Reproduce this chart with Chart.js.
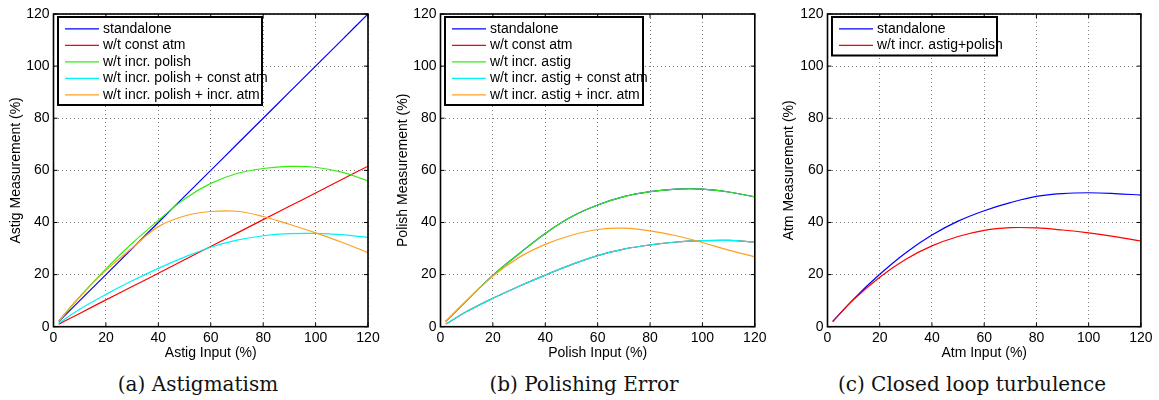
<!DOCTYPE html>
<html><head><meta charset="utf-8">
<script src="https://cdn.jsdelivr.net/npm/chart.js@4.4.1/dist/chart.umd.min.js"></script>
<style>
html,body{margin:0;padding:0;background:#fff;width:1159px;height:400px;overflow:hidden;}
.wrap{position:absolute;top:0;width:385px;height:365px;}
.cap{position:absolute;top:372px;line-height:24px;font-family:"DejaVu Serif",serif;font-size:20px;color:#111;white-space:nowrap;transform:translateX(-50%);}
</style></head><body>
<div class="wrap" style="left:0px"><canvas id="c1" width="385" height="365"></canvas></div>
<div class="wrap" style="left:386.5px"><canvas id="c2" width="385" height="365"></canvas></div>
<div class="wrap" style="left:773.8px"><canvas id="c3" width="385" height="365"></canvas></div>
<div class="cap" style="left:198px">(a) Astigmatism</div>
<div class="cap" style="left:584px">(b) Polishing Error</div>
<div class="cap" style="left:972px">(c) Closed loop turbulence</div>
<script>
// ---- data ----
const xInput = [2, 10, 20, 30, 40, 50, 60, 70, 80, 90, 100, 110, 120];
const axisTicks = [0, 20, 40, 60, 80, 100, 120];

// (a) Astigmatism
const astigStandalone        = [2, 10, 20, 30, 40, 50, 60, 70, 80, 90, 100, 110, 120];
const astigConstAtm          = [1.0, 5.1, 10.3, 15.4, 20.5, 25.7, 30.8, 35.9, 41.1, 46.2, 51.3, 56.5, 61.6];
const astigIncrPolish        = [2.2, 11.5, 22.2, 32.0, 40.8, 49.0, 55.0, 58.8, 60.7, 61.5, 61.2, 59.3, 56.0];
const astigIncrPolishConst   = [1.3, 6.7, 12.4, 17.6, 22.4, 26.7, 30.5, 33.2, 34.9, 35.7, 35.8, 35.3, 34.3];
const astigIncrPolishIncr    = [2.1, 11.4, 21.6, 30.2, 38.4, 42.5, 44.2, 44.3, 42.3, 39.3, 36.0, 32.4, 28.4];

// (b) Polishing error
const polishStandalone       = [2, 10, 19.7, 28.0, 35.8, 42.2, 46.7, 49.9, 51.8, 52.8, 52.8, 51.7, 49.8];
const polishConstAtm         = [1, 5.8, 10.9, 15.5, 19.8, 23.8, 27.3, 29.8, 31.4, 32.5, 33.0, 33.1, 32.5];
const polishIncrAstig        = [2, 10, 19.7, 28.0, 35.8, 42.2, 46.7, 49.9, 51.8, 52.8, 52.8, 51.7, 49.8];
const polishIncrAstigConst   = [1, 5.8, 10.9, 15.5, 19.8, 23.8, 27.3, 29.8, 31.4, 32.5, 33.0, 33.1, 32.5];
const polishIncrAstigIncr    = [2, 10, 19.4, 26.6, 31.6, 35.1, 37.3, 37.8, 36.8, 34.9, 32.3, 29.4, 26.8];

// (c) Closed loop turbulence
const atmStandalone          = [2, 10.6, 20.1, 28.4, 35.2, 40.5, 44.5, 47.6, 50.0, 51.1, 51.4, 51.1, 50.5];
const atmIncrAstigPolish     = [2, 10.4, 19.0, 25.9, 31.0, 34.6, 37.0, 38.0, 37.9, 37.1, 36.0, 34.6, 32.9];

// ---- styling ----
const BLUE = '#0000ff', RED = '#ff0000', GREEN = '#33ee11', CYAN = '#00f4f4', ORANGE = '#ffa020';
const FONT = '"Liberation Sans", Arial, Helvetica, sans-serif';
Chart.defaults.font.family = FONT;
Chart.defaults.color = '#000';

function series(label, color, ys, idx, n) {
  return {
    label, borderColor: color, backgroundColor: color,
    data: xInput.map((x, i) => ({ x, y: ys[i] })),
    borderWidth: 1.2, pointRadius: 0, pointHoverRadius: 0,
    tension: 0.4, fill: false, order: n - idx
  };
}

const framePlugin = {
  id: 'frame',
  afterDraw(chart) {
    const { ctx, chartArea: a, scales: { x, y } } = chart;
    ctx.save();
    ctx.strokeStyle = '#000';
    ctx.lineWidth = 1;
    ctx.beginPath();
    axisTicks.forEach(v => {
      const px = x.getPixelForValue(v);
      ctx.moveTo(px, a.bottom); ctx.lineTo(px, a.bottom - 4);
      ctx.moveTo(px, a.top); ctx.lineTo(px, a.top + 4);
      const py = y.getPixelForValue(v);
      ctx.moveTo(a.left, py); ctx.lineTo(a.left + 4, py);
      ctx.moveTo(a.right, py); ctx.lineTo(a.right - 4, py);
    });
    ctx.stroke();
    ctx.lineWidth = 1.6;
    ctx.strokeRect(a.left, a.top, a.right - a.left, a.bottom - a.top);
    ctx.restore();
  }
};

const boxLegend = {
  id: 'boxLegend',
  afterDraw(chart, args, opts) {
    const ctx = chart.ctx, a = chart.chartArea;
    const ds = chart.data.datasets;
    const x0 = a.left + 4.5, y0 = a.top + 3;
    const w = opts.width, rowH = 16.5;
    const h = 22 + (ds.length - 1) * rowH;
    ctx.save();
    ctx.fillStyle = '#fff';
    ctx.fillRect(x0, y0, w, h);
    ctx.font = '14px ' + FONT;
    ctx.textBaseline = 'middle';
    ds.forEach((d, i) => {
      const cy = y0 + 11.8 + i * rowH;
      ctx.strokeStyle = d.borderColor; ctx.lineWidth = 1.2;
      ctx.beginPath(); ctx.moveTo(x0 + 7, cy); ctx.lineTo(x0 + 41, cy); ctx.stroke();
      ctx.fillStyle = '#000';
      ctx.fillText(d.label, x0 + 45, cy);
    });
    ctx.strokeStyle = '#000'; ctx.lineWidth = 2;
    ctx.strokeRect(x0, y0, w, h);
    ctx.restore();
  }
};

function makeChart(id, datasets, xTitle, yTitle, legendWidth, yTitlePad, rightPad) {
  return new Chart(document.getElementById(id), {
    type: 'line',
    data: { datasets },
    options: {
      responsive: false, animation: false, events: [],
      layout: { padding: { left: 0, top: 14, right: rightPad, bottom: 0 } },
      plugins: { legend: { display: false }, tooltip: { enabled: false }, boxLegend: { width: legendWidth } },
      scales: {
        x: {
          type: 'linear', min: 0, max: 120,
          ticks: { stepSize: 20, padding: 3, color: '#000', font: { size: 14 }, maxRotation: 0, autoSkip: false },
          grid: { color: 'rgba(0,0,0,0.5)', drawTicks: false, lineWidth: 1, borderDash: [1, 3] },
          border: { display: false, dash: [1, 3] },
          title: { display: true, text: xTitle, color: '#000', font: { size: 14 }, padding: { top: 0, bottom: 3 } },
          afterFit(s) { s.height = 38.3; }
        },
        y: {
          type: 'linear', min: 0, max: 120,
          ticks: { stepSize: 20, padding: 4, color: '#000', font: { size: 14 }, autoSkip: false },
          grid: { color: 'rgba(0,0,0,0.5)', drawTicks: false, lineWidth: 1, borderDash: [1, 3] },
          border: { display: false, dash: [1, 3] },
          title: { display: true, text: yTitle, color: '#000', font: { size: 14 }, padding: { top: yTitlePad, bottom: 0 } },
          afterFit(s) { s.width = 53.5; }
        }
      }
    },
    plugins: [framePlugin, boxLegend]
  });
}

makeChart('c1', [
  series('standalone', BLUE, astigStandalone, 0, 5),
  series('w/t const atm', RED, astigConstAtm, 1, 5),
  series('w/t incr. polish', GREEN, astigIncrPolish, 2, 5),
  series('w/t incr. polish + const atm', CYAN, astigIncrPolishConst, 3, 5),
  series('w/t incr. polish + incr. atm', ORANGE, astigIncrPolishIncr, 4, 5)
], 'Astig Input (%)', 'Astig Measurement (%)', 204, 7.6, 17);

makeChart('c2', [
  series('standalone', BLUE, polishStandalone, 0, 5),
  series('w/t const atm', RED, polishConstAtm, 1, 5),
  series('w/t incr. astig', GREEN, polishIncrAstig, 2, 5),
  series('w/t incr. astig + const atm', CYAN, polishIncrAstigConst, 3, 5),
  series('w/t incr. astig + incr. atm', ORANGE, polishIncrAstigIncr, 4, 5)
], 'Polish Input (%)', 'Polish Measurement (%)', 198, 7.6, 17.2);

makeChart('c3', [
  series('standalone', BLUE, atmStandalone, 0, 2),
  series('w/t incr. astig+polish', RED, atmIncrAstigPolish, 1, 2)
], 'Atm Input (%)', 'Atm Measurement (%)', 165, 6.8, 18.1);
</script>
</body></html>
